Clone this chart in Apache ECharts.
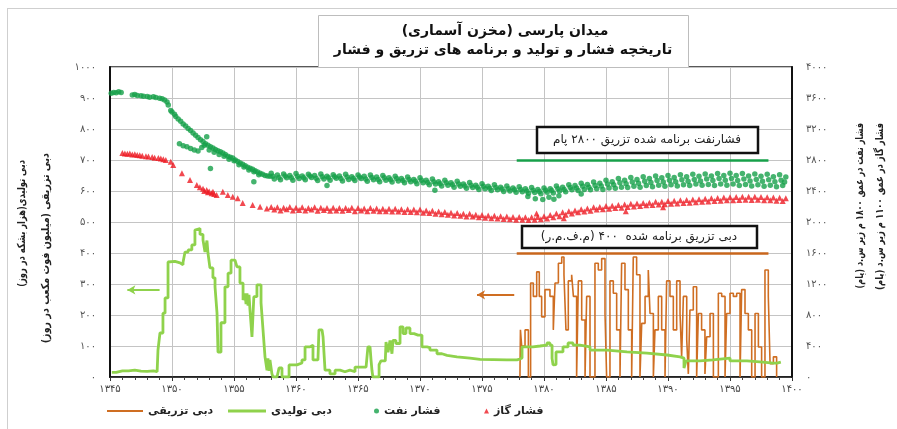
<!DOCTYPE html>
<html><head><meta charset="utf-8">
<script src="https://cdn.jsdelivr.net/npm/echarts@6/dist/echarts.min.js"></script>
<style>html,body{margin:0;padding:0;background:#fff}#c{width:897px;height:429px}</style>
</head><body>
<div id="c" dir="rtl"></div>
<script>
// ---- text ----
const titleLine1 = 'میدان پارسی (مخزن آسماری)';
const titleLine2 = 'تاریخچه فشار و تولید و برنامه های تزریق و فشار';
const leftName1 = 'دبی تولیدی(هزار بشکه در روز)';
const leftName2 = 'دبی تزریقی (میلیون فوت مکعب در روز)';
const rightName1 = 'فشار نفت در عمق ۱۸۰۰ م زیر س.د (پام)';
const rightName2 = 'فشار گاز در عمق ۱۱۰۰ م زیر س.د (پام)';
const noteOil = 'فشارنفت برنامه شده تزریق ۲۸۰۰ پام';
const noteInj = 'دبی تزریق برنامه شده  ۴۰۰ (م.ف.م.ر)';
const seriesNames = ['دبی تزریقی', 'دبی تولیدی', 'فشار نفت', 'فشار گاز'];

// ---- axes ----
const xMin = 1345, xMax = 1400, xStep = 5;
const leftMax = 1000, leftStep = 100;
const rightMax = 4000, rightStep = 400;
const plannedOilPressure = 2800, plannedInjection = 400;
const plannedSpan = [1377.8, 1398.1];

// ---- oil pressure (psi, right axis) ----
const oilPressure = [
[1345.1,3660],[1345.3,3672],[1345.5,3668],[1345.7,3680],[1345.9,3670],
[1346.8,3640],[1347.0,3645],[1347.2,3632],[1347.5,3628],[1347.7,3622],[1348.0,3618],[1348.2,3610],[1348.5,3615],[1348.7,3605],[1349.0,3598],[1349.2,3590],[1349.4,3575],[1349.6,3550],
[1349.7,3510],[1349.9,3440],[1350.0,3420],[1350.2,3390],[1350.3,3360],[1350.5,3330],[1350.7,3300],[1350.9,3265],[1351.1,3240],[1351.3,3205],[1351.5,3180],[1351.7,3150],[1351.9,3120],
[1352.1,3090],[1352.3,3060],[1352.5,3040],[1352.7,3010],[1352.9,2990],[1353.1,2970],[1353.3,2955],[1353.5,2935],[1353.7,2920],[1353.9,2905],[1354.1,2890],[1354.3,2870],[1354.5,2850],
[1354.7,2835],[1354.9,2825],[1355.1,2800],[1355.3,2780],[1355.5,2760],[1355.7,2745],[1355.9,2725],[1356.1,2705],[1356.3,2695],[1356.5,2680],[1356.7,2660],[1356.9,2645],[1357.1,2630],
[1357.3,2615],[1357.5,2600],[1357.7,2595],[1357.9,2590],
[1350.6,3010],[1350.9,2985],[1351.2,2970],[1351.5,2950],[1351.8,2930],[1352.1,2915],[1352.4,2960],[1352.6,2990],[1353.0,2930],[1353.4,2900],[1353.8,2870],[1354.2,2850],[1354.6,2810],
[1355.0,2790],[1355.4,2740],[1355.8,2710],[1356.2,2670],[1356.6,2650],[1357.0,2610],
[1352.8,3100],[1353.1,2690],[1356.6,2520],[1362.5,2470],[1371.2,2410],[1379.3,2300],[1379.9,2290],[1380.4,2320],[1381.2,2340],[1378.7,2330],[1380.8,2295],[1383.0,2360],
[1358.00,2630],[1358.25,2555],[1358.50,2605],[1358.75,2545],[1359.00,2620],[1359.25,2570],[1359.50,2600],[1359.75,2540],
[1360.00,2625],[1360.25,2560],[1360.50,2595],[1360.75,2545],[1361.00,2615],[1361.25,2575],[1361.50,2600],[1361.75,2535],
[1362.00,2620],[1362.25,2555],[1362.50,2590],[1362.75,2540],[1363.00,2610],[1363.25,2565],[1363.50,2595],[1363.75,2530],
[1364.00,2615],[1364.25,2550],[1364.50,2585],[1364.75,2535],[1365.00,2605],[1365.25,2560],[1365.50,2590],[1365.75,2525],
[1366.00,2605],[1366.25,2545],[1366.50,2580],[1366.75,2520],[1367.00,2600],[1367.25,2540],[1367.50,2570],[1367.75,2515],
[1368.00,2590],[1368.25,2530],[1368.50,2560],[1368.75,2505],[1369.00,2580],[1369.25,2520],[1369.50,2550],[1369.75,2495],
[1370.00,2570],[1370.25,2505],[1370.50,2540],[1370.75,2480],[1371.00,2555],[1371.25,2490],[1371.50,2520],[1371.75,2465],
[1372.00,2540],[1372.25,2475],[1372.50,2505],[1372.75,2450],[1373.00,2525],[1373.25,2460],[1373.50,2490],[1373.75,2435],
[1374.00,2510],[1374.25,2445],[1374.50,2475],[1374.75,2420],[1375.00,2495],[1375.25,2430],[1375.50,2460],[1375.75,2405],
[1376.00,2480],[1376.25,2415],[1376.50,2450],[1376.75,2395],[1377.00,2465],[1377.25,2400],[1377.50,2440],[1377.75,2385],
[1378.00,2455],[1378.25,2390],[1378.50,2430],[1378.75,2370],[1379.00,2445],[1379.25,2380],[1379.50,2420],[1379.75,2365],
[1380.00,2440],[1380.25,2385],[1380.50,2430],[1380.75,2375],[1381.00,2465],[1381.25,2400],[1381.50,2450],[1381.75,2390],
[1382.00,2480],[1382.25,2415],[1382.50,2470],[1382.75,2405],[1383.00,2500],[1383.25,2420],[1383.50,2485],[1383.75,2415],
[1384.00,2515],[1384.25,2430],[1384.50,2500],[1384.75,2420],[1385.00,2540],[1385.25,2440],[1385.50,2520],[1385.75,2435],
[1386.00,2560],[1386.25,2450],[1386.50,2540],[1386.75,2445],[1387.00,2575],[1387.25,2460],[1387.50,2550],[1387.75,2450],
[1388.00,2585],[1388.25,2470],[1388.50,2560],[1388.75,2455],[1389.00,2595],[1389.25,2475],[1389.50,2570],[1389.75,2460],
[1390.00,2600],[1390.25,2480],[1390.50,2575],[1390.75,2465],[1391.00,2610],[1391.25,2480],[1391.50,2585],[1391.75,2470],
[1392.00,2615],[1392.25,2490],[1392.50,2590],[1392.75,2475],[1393.00,2620],[1393.25,2485],[1393.50,2595],[1393.75,2470],
[1394.00,2625],[1394.25,2490],[1394.50,2600],[1394.75,2475],[1395.00,2630],[1395.25,2490],[1395.50,2600],[1395.75,2470],
[1396.00,2625],[1396.25,2485],[1396.50,2595],[1396.75,2465],[1397.00,2620],[1397.25,2480],[1397.50,2590],[1397.75,2460],
[1398.00,2615],[1398.25,2475],[1398.50,2585],[1398.75,2455],[1399.00,2610],[1399.25,2470],[1399.50,2580],
[1358.12,2590],[1358.62,2575],[1359.12,2595],[1359.62,2570],[1360.12,2590],[1360.62,2570],[1361.12,2595],[1361.62,2565],
[1362.12,2585],[1362.62,2570],[1363.12,2585],[1363.62,2560],[1364.12,2580],[1364.62,2560],[1365.12,2580],[1365.62,2555],
[1366.12,2575],[1366.62,2550],[1367.12,2570],[1367.62,2545],[1368.12,2560],[1368.62,2535],[1369.12,2550],[1369.62,2525],
[1370.12,2540],[1370.62,2510],[1371.12,2520],[1371.62,2495],[1372.12,2505],[1372.62,2480],[1373.12,2490],[1373.62,2465],
[1374.12,2475],[1374.62,2450],[1375.12,2460],[1375.62,2435],[1376.12,2445],[1376.62,2425],[1377.12,2430],[1377.62,2415],
[1378.12,2420],[1378.62,2400],[1379.12,2410],[1379.62,2395],[1380.12,2410],[1380.62,2405],[1381.12,2430],[1381.62,2420],
[1382.12,2445],[1382.62,2440],[1383.12,2460],[1383.62,2450],[1384.12,2470],[1384.62,2465],[1385.12,2490],[1385.62,2480],
[1386.12,2505],[1386.62,2495],[1387.12,2515],[1387.62,2500],[1388.12,2525],[1388.62,2510],[1389.12,2535],[1389.62,2515],
[1390.12,2540],[1390.62,2520],[1391.12,2545],[1391.62,2525],[1392.12,2550],[1392.62,2530],[1393.12,2555],[1393.62,2535],
[1394.12,2560],[1394.62,2540],[1395.12,2560],[1395.62,2535],[1396.12,2555],[1396.62,2530],[1397.12,2550],[1397.62,2525],
[1398.12,2545],[1398.62,2520],[1399.12,2540],[1399.4,2515]
];

// ---- gas pressure (psi, right axis) ----
const gasPressure = [
[1346.0,2890],[1346.2,2885],[1346.4,2880],[1346.6,2885],[1346.8,2870],[1347.0,2875],[1347.2,2865],[1347.4,2860],[1347.6,2855],[1347.9,2850],[1348.1,2845],[1348.4,2840],[1348.6,2830],
[1348.9,2825],[1349.1,2820],[1349.3,2810],[1349.5,2800],[1349.9,2777],[1350.1,2735],[1350.8,2628],[1351.45,2542],[1352.0,2477],[1352.25,2448],[1352.5,2430],[1352.6,2400],[1352.8,2413],
[1352.9,2385],[1353.0,2395],[1353.2,2370],[1353.3,2390],[1353.4,2360],[1353.6,2348],[1354.1,2391],[1354.5,2348],[1354.9,2327],[1355.3,2305],[1355.7,2245],[1356.5,2219],[1357.1,2197],[1357.65,2175],
[1379.4,2110],[1381.6,2050],[1386.6,2140],[1389.6,2190],
[1358.00,2195],[1358.25,2160],[1358.50,2190],[1358.75,2150],[1359.00,2185],[1359.25,2165],[1359.50,2195],[1359.75,2150],
[1360.00,2185],[1360.25,2155],[1360.50,2190],[1360.75,2150],[1361.00,2180],[1361.25,2160],[1361.50,2190],[1361.75,2145],
[1362.00,2185],[1362.25,2155],[1362.50,2180],[1362.75,2145],[1363.00,2185],[1363.25,2150],[1363.50,2180],[1363.75,2145],
[1364.00,2180],[1364.25,2155],[1364.50,2185],[1364.75,2140],[1365.00,2180],[1365.25,2150],[1365.50,2175],[1365.75,2140],
[1366.00,2180],[1366.25,2145],[1366.50,2175],[1366.75,2140],[1367.00,2170],[1367.25,2140],[1367.50,2170],[1367.75,2135],
[1368.00,2170],[1368.25,2135],[1368.50,2165],[1368.75,2130],[1369.00,2165],[1369.25,2130],[1369.50,2160],[1369.75,2125],
[1370.00,2160],[1370.25,2120],[1370.50,2150],[1370.75,2115],[1371.00,2145],[1371.25,2105],[1371.50,2135],[1371.75,2100],
[1372.00,2130],[1372.25,2095],[1372.50,2120],[1372.75,2085],[1373.00,2115],[1373.25,2080],[1373.50,2105],[1373.75,2070],
[1374.00,2105],[1374.25,2070],[1374.50,2095],[1374.75,2060],[1375.00,2090],[1375.25,2055],[1375.50,2085],[1375.75,2050],
[1376.00,2080],[1376.25,2045],[1376.50,2075],[1376.75,2040],[1377.00,2070],[1377.25,2035],[1377.50,2065],[1377.75,2030],
[1378.00,2065],[1378.25,2030],[1378.50,2060],[1378.75,2025],[1379.00,2060],[1379.25,2030],[1379.50,2065],[1379.75,2035],
[1380.00,2075],[1380.25,2045],[1380.50,2090],[1380.75,2060],[1381.00,2110],[1381.25,2075],[1381.50,2125],[1381.75,2095],
[1382.00,2140],[1382.25,2110],[1382.50,2150],[1382.75,2125],[1383.00,2165],[1383.25,2135],[1383.50,2175],[1383.75,2145],
[1384.00,2190],[1384.25,2160],[1384.50,2195],[1384.75,2165],[1385.00,2205],[1385.25,2170],[1385.50,2210],[1385.75,2180],
[1386.00,2220],[1386.25,2185],[1386.50,2225],[1386.75,2195],[1387.00,2235],[1387.25,2200],[1387.50,2240],[1387.75,2205],
[1388.00,2245],[1388.25,2215],[1388.50,2250],[1388.75,2220],[1389.00,2260],[1389.25,2225],[1389.50,2262],[1389.75,2230],
[1390.00,2270],[1390.25,2235],[1390.50,2275],[1390.75,2240],[1391.00,2280],[1391.25,2245],[1391.50,2285],[1391.75,2250],
[1392.00,2290],[1392.25,2255],[1392.50,2295],[1392.75,2262],[1393.00,2300],[1393.25,2265],[1393.50,2305],[1393.75,2270],
[1394.00,2310],[1394.25,2275],[1394.50,2315],[1394.75,2280],[1395.00,2320],[1395.25,2282],[1395.50,2322],[1395.75,2285],
[1396.00,2325],[1396.25,2288],[1396.50,2325],[1396.75,2285],[1397.00,2325],[1397.25,2288],[1397.50,2322],[1397.75,2282],
[1398.00,2320],[1398.25,2280],[1398.50,2315],[1398.75,2275],[1399.00,2312],[1399.25,2270],[1399.50,2305]
];

// ---- production (thousand bbl/day, left axis) ----
const production = [
[1345.15,15],[1345.5,20],[1346.0,20],[1346.5,22],[1347.0,19],[1347.5,18],[1348.0,20],[1348.5,17],[1348.8,15],
[1348.87,87],[1349.03,142],[1349.27,206],[1349.44,255],[1349.68,371],[1349.84,373],[1350.24,368],[1350.65,362],[1350.89,370],
[1351.05,403],[1351.3,410],[1351.6,426],[1351.85,474],[1352.0,479],[1352.26,460],[1352.5,442],[1352.58,440],[1352.66,403],
[1352.74,405],[1352.82,440],[1352.9,400],[1353.06,352],[1353.3,320],[1353.47,291],[1353.63,206],[1353.71,80],[1353.87,80],
[1353.95,175],[1354.27,291],[1354.52,335],[1354.76,377],[1355.08,377],[1355.24,355],[1355.48,303],[1355.73,248],[1355.89,270],
[1355.97,235],[1356.05,270],[1356.13,230],[1356.21,265],[1356.29,216],[1356.45,129],[1356.53,129],[1356.6,259],[1356.85,297],
[1357.0,297],[1357.18,239],[1357.34,152],[1357.5,65],[1357.66,22],[1357.74,60],[1357.82,20],[1357.9,55],[1358.06,10],
[1358.15,0],[1358.47,0],[1358.63,29],[1358.79,29],[1358.87,0],[1359.27,0],[1359.44,39],[1359.84,39],[1360.08,45],[1360.48,55],
[1360.73,97],[1361.13,103],[1361.37,55],[1361.77,55],[1361.85,152],[1362.1,152],[1362.18,130],[1362.34,22],[1362.74,10],
[1363.15,22],[1363.55,17],[1363.95,22],[1364.35,17],[1364.76,32],[1365.65,32],[1365.8,97],[1365.97,97],[1366.05,55],
[1366.13,20],[1366.2,0],[1366.53,0],[1366.7,40],[1366.85,52],[1367.2,52],[1367.26,113],[1367.42,80],[1367.58,118],
[1367.74,75],[1367.82,118],[1368.06,108],[1368.39,162],[1368.63,140],[1368.87,158],[1369.19,140],[1369.52,135],[1369.84,135],
[1370.16,97],[1370.56,95],[1370.8,87],[1371.37,75],[1371.77,70],[1372.18,65],[1372.98,61],[1374.03,57],[1374.84,55],
[1377.0,55],[1377.82,58],[1378.06,61],[1378.23,97],[1379.11,100],[1379.68,103],[1380.24,110],[1380.48,103],[1380.65,60],
[1380.73,39],[1380.89,40],[1380.97,81],[1381.53,97],[1381.94,110],[1382.34,103],[1382.9,97],[1383.71,87],[1385.08,81],
[1386.69,77],[1388.31,71],[1389.92,65],[1390.97,61],[1391.29,29],[1391.45,52],[1392.58,55],[1393.63,61],[1395.0,52],
[1396.37,48],[1397.66,45],[1398.47,45],[1398.79,39],[1398.95,48],[1399.1,48]
];

// ---- injection (MMscf/day, left axis) ----
const injection = [
[1378.06,0],[1378.1,152],[1378.2,100],[1378.47,152],[1378.74,0],[1378.92,303],[1379.14,260],[1379.41,339],[1379.62,260],
[1379.81,194],[1380.08,282],[1380.48,260],[1380.75,152],[1380.89,303],[1381.16,367],[1381.43,387],[1381.61,330],[1381.77,152],
[1381.96,310],[1382.23,330],[1382.37,260],[1382.63,0],[1382.77,310],[1383.04,184],[1383.31,0],[1383.44,260],[1383.71,0],
[1384.11,367],[1384.38,345],[1384.65,382],[1384.92,205],[1385.05,0],[1385.32,310],[1385.59,270],[1385.86,152],[1386.13,0],
[1386.26,367],[1386.53,282],[1386.8,152],[1387.07,0],[1387.2,387],[1387.47,330],[1387.74,0],[1387.88,173],[1388.15,260],
[1388.41,345],[1388.55,205],[1388.82,0],[1388.95,152],[1389.22,260],[1389.49,152],[1389.76,0],[1389.89,310],[1390.16,260],
[1390.43,152],[1390.7,310],[1390.97,205],[1391.1,65],[1391.24,260],[1391.51,120],[1391.64,10],[1391.77,216],[1392.04,291],
[1392.31,0],[1392.45,205],[1392.71,152],[1392.98,10],[1393.12,130],[1393.39,205],[1393.66,0],[1394.06,270],[1394.33,260],
[1394.6,0],[1394.73,205],[1395.0,270],[1395.27,260],[1395.54,270],[1395.81,0],[1395.94,282],[1396.21,205],[1396.48,152],
[1396.75,0],[1397.02,205],[1397.29,97],[1397.55,0],[1397.82,345],[1398.09,260],[1398.23,43],[1398.5,65],[1398.76,0]
];

// ---- arrows (data coords) ----
const prodArrow = [[1349.0, 281], [1346.4, 281]];
const injArrow = [[1377.6, 265], [1374.6, 265]];

const FA = '۰۱۲۳۴۵۶۷۸۹';
const toFa = v => String(v).replace(/\d/g, d => FA[+d]);
const FF = '"DejaVu Sans", sans-serif';
const C = { oil: '#17a04a', gas: '#ee1b24', prod: '#8fd24c', inj: '#cf6e22', injRef: '#c8661c' };

const chart = echarts.init(document.getElementById('c'));

function legendFor(i, left, icon, color, w, h) {
  return {
    data: [seriesNames[i]], left: left, top: 397, icon: icon, itemWidth: w, itemHeight: h,
    itemGap: 0, padding: 0, selectedMode: false,
    itemStyle: { color: color }, lineStyle: { color: color, width: 2.5 },
    textStyle: { fontFamily: FF, fontSize: 11, fontWeight: 'bold', color: '#222', lineHeight: 14, padding: [14, 0, 0, 0] }
  };
}

const option = {
  backgroundColor: '#fff',
  animation: false,
  grid: { left: 110, right: 105, top: 67, bottom: 52, show: true, borderColor: '#222', borderWidth: 1.5, backgroundColor: 'transparent' },
  legend: [
    legendFor(0, 107, 'rect', C.inj, 36, 2),
    legendFor(1, 228, 'rect', C.prod, 38, 3),
    legendFor(2, 374, 'circle', C.oil, 5, 5),
    legendFor(3, 484, 'triangle', C.gas, 5, 5)
  ],
  xAxis: {
    type: 'value', min: xMin, max: xMax, interval: xStep,
    axisLine: { lineStyle: { color: '#111', width: 1.5 } },
    axisTick: { show: true, length: 4, lineStyle: { color: '#333' } },
    minorTick: { show: true, splitNumber: 5, length: 3, lineStyle: { color: '#444' } },
    axisLabel: { formatter: v => toFa(v), fontFamily: FF, fontSize: 10, color: '#444', margin: 7 },
    splitLine: { show: true, lineStyle: { color: '#c4c4c4', width: 1 } }
  },
  yAxis: [
    { type: 'value', min: 0, max: leftMax, interval: leftStep,
      axisLine: { show: true, lineStyle: { color: '#111', width: 2 } },
      axisTick: { show: false },
      axisLabel: { formatter: v => toFa(v), fontFamily: FF, fontSize: 10, color: '#555', margin: 14 },
      splitLine: { show: true, lineStyle: { color: '#c4c4c4', width: 1 } } },
    { type: 'value', min: 0, max: rightMax, interval: rightStep, position: 'right',
      axisLine: { show: true, lineStyle: { color: '#111', width: 2 } },
      axisTick: { show: false },
      axisLabel: { formatter: v => toFa(v), fontFamily: FF, fontSize: 10, color: '#555', margin: 14 },
      splitLine: { show: false } }
  ],
  series: [
    { name: seriesNames[0], type: 'line', yAxisIndex: 0, data: injection, step: 'end', showSymbol: false,
      lineStyle: { color: C.inj, width: 1.6 }, itemStyle: { color: C.inj }, z: 3,
      markLine: { silent: true, symbol: 'none', label: { show: false },
        lineStyle: { color: C.injRef, width: 2.5, type: 'solid' },
        data: [
          [{ coord: [plannedSpan[0], plannedInjection] }, { coord: [plannedSpan[1], plannedInjection] }],
          [{ coord: injArrow[0], symbol: 'none' }, { coord: injArrow[1], symbol: 'arrow', symbolSize: [7, 8], lineStyle: { width: 2, color: C.inj } }]
        ] } },
    { name: seriesNames[1], type: 'line', yAxisIndex: 0, data: production, step: 'end', showSymbol: false,
      lineStyle: { color: C.prod, width: 2.8 }, itemStyle: { color: C.prod }, z: 4,
      markLine: { silent: true, symbol: 'none', label: { show: false },
        lineStyle: { color: C.prod, width: 2, type: 'solid' },
        data: [
          [{ coord: prodArrow[0], symbol: 'none' }, { coord: prodArrow[1], symbol: 'arrow', symbolSize: [7, 8] }]
        ] } },
    { name: seriesNames[2], type: 'scatter', yAxisIndex: 1, data: oilPressure, symbol: 'circle', symbolSize: 5.5,
      itemStyle: { color: C.oil }, z: 5,
      markLine: { silent: true, symbol: 'none', label: { show: false },
        lineStyle: { color: C.oil, width: 2.5, type: 'solid' },
        data: [[{ coord: [plannedSpan[0], plannedOilPressure] }, { coord: [plannedSpan[1], plannedOilPressure] }]] } },
    { name: seriesNames[3], type: 'scatter', yAxisIndex: 1, data: gasPressure, symbol: 'triangle', symbolSize: 6,
      itemStyle: { color: C.gas }, z: 5 }
  ],
  graphic: [
    { type: 'line', shape: { x1: 7, y1: 8.5, x2: 897, y2: 8.5 }, style: { stroke: '#cfcfcf', lineWidth: 1 }, silent: true },
    { type: 'line', shape: { x1: 7.5, y1: 8, x2: 7.5, y2: 429 }, style: { stroke: '#cfcfcf', lineWidth: 1 }, silent: true },
    { type: 'rect', shape: { x: 318.5, y: 15.5, width: 370, height: 52 }, style: { fill: '#fff', stroke: '#bdbdbd', lineWidth: 1 }, z: 10 },
    { type: 'text', x: 505, y: 31, z: 11, style: { text: titleLine1, font: 'bold 14px ' + FF, fill: '#111', align: 'center', verticalAlign: 'middle' } },
    { type: 'text', x: 503, y: 50, z: 11, style: { text: titleLine2, font: 'bold 14px ' + FF, fill: '#111', align: 'center', verticalAlign: 'middle' } },
    { type: 'text', x: 22, y: 160, rotation: Math.PI / 2, scaleX: 0.76, style: { text: leftName1, font: 'bold 11px ' + FF, fill: '#222', align: 'right', verticalAlign: 'middle' } },
    { type: 'text', x: 46, y: 153, rotation: Math.PI / 2, scaleX: 0.87, style: { text: leftName2, font: 'bold 11px ' + FF, fill: '#222', align: 'right', verticalAlign: 'middle' } },
    { type: 'text', x: 860, y: 123, rotation: Math.PI / 2, scaleX: 0.74, style: { text: rightName1, font: 'bold 11px ' + FF, fill: '#222', align: 'right', verticalAlign: 'middle' } },
    { type: 'text', x: 880, y: 123, rotation: Math.PI / 2, scaleX: 0.77, style: { text: rightName2, font: 'bold 11px ' + FF, fill: '#222', align: 'right', verticalAlign: 'middle' } },
    { type: 'rect', shape: { x: 537, y: 127, width: 221, height: 26 }, style: { fill: '#fff', stroke: '#111', lineWidth: 2.5 }, z: 10 },
    { type: 'text', x: 647, y: 140, z: 11, style: { text: noteOil, font: '12px ' + FF, fill: '#222', align: 'center', verticalAlign: 'middle' } },
    { type: 'rect', shape: { x: 522, y: 226, width: 235, height: 22 }, style: { fill: '#fff', stroke: '#111', lineWidth: 2.5 }, z: 10 },
    { type: 'text', x: 639, y: 237, z: 11, style: { text: noteInj, font: '12px ' + FF, fill: '#222', align: 'center', verticalAlign: 'middle' } }
  ]
};
chart.setOption(option);
</script>
</body></html>
